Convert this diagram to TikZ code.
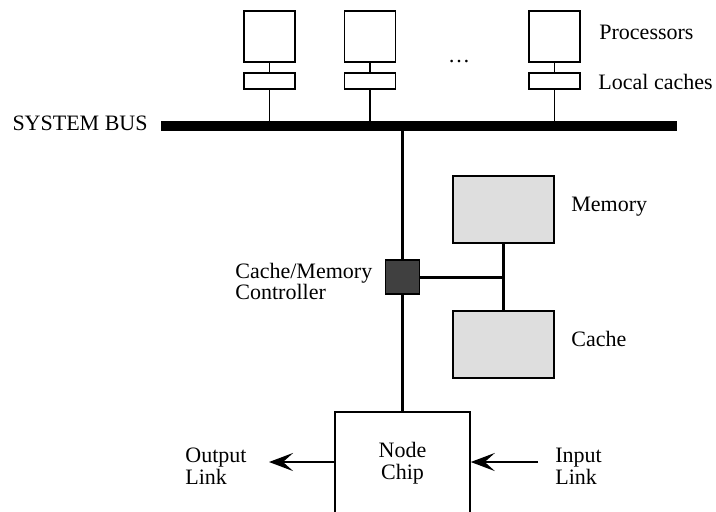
\documentclass[tikz,border=0pt]{standalone}
\usepackage{fontspec}
\setmainfont{Liberation Serif}
\usetikzlibrary{arrows.meta}
\definecolor{boxgray}{HTML}{DEDEDE}
\definecolor{ctrlgray}{HTML}{404040}
\begin{document}
\begin{tikzpicture}[x=0.5pt,y=-0.5pt,
  every node/.style={font=\fontsize{11pt}{11pt}\selectfont, inner sep=0pt},
  proc/.style={draw, line width=0.75pt, minimum width=25.5pt, minimum height=25.5pt},
  lcache/.style={draw, line width=0.75pt, minimum width=25.5pt, minimum height=8pt},
  thinline/.style={line width=0.75pt},
  thickline/.style={line width=1.5pt},
  graybox/.style={draw, line width=0.75pt, fill=boxgray, minimum width=50.5pt, minimum height=33.5pt},
  arr/.style={line width=1.3pt, -{Stealth[length=12pt,width=9pt,inset=5pt]}},
  lbl/.style={align=left}
]
\useasboundingbox (0,0) rectangle (716,511);
% processors and local caches
\node[proc] (p1) at (269.5,36.5) {};
\node[proc] (p2) at (370,36.5) {};
\node[proc] (p3) at (554.5,36.5) {};
\node[lcache] (c1) at (269.5,81) {};
\node[lcache] (c2) at (370,81) {};
\node[lcache] (c3) at (554.5,81) {};
% bus
\node[fill=black, minimum width=258pt, minimum height=5pt] (bus) at (419,126) {};
\draw[thinline] (p1) -- (c1);
\draw[thinline] (p2) -- (c2);
\draw[thinline] (p3) -- (c3);
\draw[thinline] (c1) -- (c1 |- bus.north);
\draw[thinline] (c2) -- (c2 |- bus.north);
\draw[thinline] (c3) -- (c3 |- bus.north);
% controller, memory, cache
\node[draw, line width=0.75pt, fill=ctrlgray, minimum width=17pt, minimum height=17pt] (ctrl) at (402.5,277) {};
\node[graybox] (mem) at (503.5,209.5) {};
\node[graybox] (cache) at (503.5,344.5) {};
\coordinate (j) at (503.5,277);
% node chip
\node[draw, line width=1pt, minimum width=67.25pt, minimum height=51.5pt, align=center,
      font=\fontsize{11pt}{11pt}\selectfont] (chip) at (402.5,463) {Node\\Chip};
% connections
\draw[thickline] (bus.south -| ctrl) -- (ctrl.north);
\draw[thickline] (ctrl.south) -- (chip.north);
\draw[thickline] (ctrl.east) -- (j);
\draw[thickline] (mem.south) -- (cache.north);
% arrows
\coordinate (outtip) at (269,462);
\coordinate (instart) at (538,462);
\draw[arr] (chip.west |- outtip) -- (outtip);
\draw[arr] (instart) -- (chip.east |- instart);
% labels
\node[anchor=base east] (sb) at (148,130) {SYSTEM BUS};
\node[anchor=base west] (lp) at (599,39) {Processors};
\node[anchor=base west] (llc) at (598,89) {Local caches};
\node[anchor=base] (dots) at (459,62) {\ldots};
\node[anchor=base west] (lm) at (571,211.7) {Memory};
\node[anchor=base west] (lc) at (571,346) {Cache};
\node[lbl, anchor=west, font=\fontsize{11pt}{10.5pt}\selectfont] (lctrl) at (235,281.5) {Cache/Memory\\Controller};
\node[lbl, anchor=west] (lout) at (185,466.5) {Output\\Link};
\node[lbl, anchor=west] (lin) at (555,466) {Input\\Link};
\end{tikzpicture}
\end{document}
